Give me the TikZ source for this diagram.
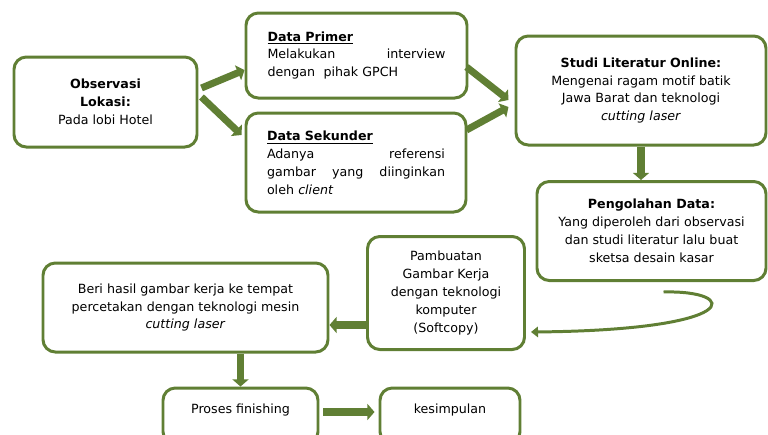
\documentclass[tikz,border=0pt]{standalone}
\usepackage{fontspec}
\setmainfont{DejaVu Sans}
\usepackage{tikz}
\usetikzlibrary{arrows.meta}
\definecolor{daun}{RGB}{96,127,52}
\newcommand{\px}{0.02cm}

\begin{document}
\begin{tikzpicture}[x=\px,y=-\px,
   kotak/.style={draw=daun,line width=1.7pt,rounded corners=7pt,fill=white,inner sep=2pt,
     font=\fontsize{7.2}{10.2}\selectfont},
   panah/.style={draw=daun,line width=4pt,-{Triangle[length=4pt,width=9pt]}},
   panahtipis/.style={draw=daun,line width=1.7pt,-{Triangle[length=4pt,width=6pt]}}]
   \useasboundingbox (0,0) rectangle (768,434);
   \clip (0,0) rectangle (768,434);

   \node[kotak,minimum width=183*\px,minimum height=90*\px,align=center] (obs) at (105.5,102)
     {\textbf{Observasi}\\\textbf{Lokasi:}\\Pada lobi Hotel};
   \node[kotak,minimum width=221*\px,minimum height=85*\px,text width=178*\px,align=left] (prim) at (356.5,55.5)
     {\underline{\textbf{Data Primer}}\\Melakukan\hfill interview\\dengan\ \ pihak GPCH};
   \node[kotak,minimum width=220*\px,minimum height=99*\px,text width=178*\px,align=left] (sek) at (356,162.5)
     {\underline{\textbf{Data Sekunder}}\\Adanya\hfill referensi\\gambar\hfill yang\hfill diinginkan\\oleh \textit{client}};
   \node[kotak,minimum width=250*\px,minimum height=109*\px,align=center] (stud) at (641,90.5)
     {\textbf{Studi Literatur Online:}\\Mengenai ragam motif batik\\Jawa Barat dan teknologi\\\textit{cutting laser}};
   \node[kotak,minimum width=229*\px,minimum height=99*\px,align=center] (peng) at (651.5,231)
     {\textbf{Pengolahan Data:}\\Yang diperoleh dari observasi\\dan studi literatur lalu buat\\sketsa desain kasar};
   \node[kotak,minimum width=157*\px,minimum height=113*\px,align=center] (pamb) at (446,293)
     {Pambuatan\\Gambar Kerja\\dengan teknologi\\komputer\\(Softcopy)};
   \node[kotak,minimum width=285*\px,minimum height=89*\px,align=center] (beri) at (185.5,307.5)
     {Beri hasil gambar kerja ke tempat\\percetakan dengan teknologi mesin\\\textit{cutting laser}};
   \node[kotak,minimum width=155*\px,minimum height=56*\px,text depth=8pt] (fin) at (240.5,416) {Proses finishing};
   \node[kotak,minimum width=140*\px,minimum height=56*\px,text depth=8pt] (kes) at (450,416) {kesimpulan};

   \draw[panah] ([xshift=3*\px,yshift=14*\px]obs.east) -- ([yshift=-14.5*\px]prim.west);
   \draw[panah] ([xshift=3*\px,yshift=5*\px]obs.east) -- ([xshift=-3*\px,yshift=27.5*\px]sek.west);
   \draw[panah] ([xshift=-2*\px,yshift=-11.5*\px]prim.east) -- ([xshift=-6*\px,yshift=-9.5*\px]stud.west);
   \draw[panah] ([xshift=-1*\px,yshift=32.5*\px]sek.east) -- ([xshift=-6*\px,yshift=-16.5*\px]stud.west);
   \draw[panah] (stud.south) -- (stud.south |- peng.north);
   \draw[panahtipis] ([xshift=12*\px,yshift=-10*\px]peng.south) .. controls (740,290) and (745,330)
     .. ([xshift=5*\px,yshift=-39*\px]pamb.east);
   \coordinate (kiri) at ([yshift=-32*\px]pamb.west);
   \draw[panah] (kiri) -- (kiri -| beri.east);
   \coordinate (bawah) at (fin.north |- beri.south);
   \draw[panah] (bawah) -- (fin.north);
   \coordinate (kanan) at ([yshift=4*\px]fin.east);
   \draw[panah,shorten <=4*\px,shorten >=4*\px] (kanan) -- (kanan -| kes.west);
\end{tikzpicture}
\end{document}
